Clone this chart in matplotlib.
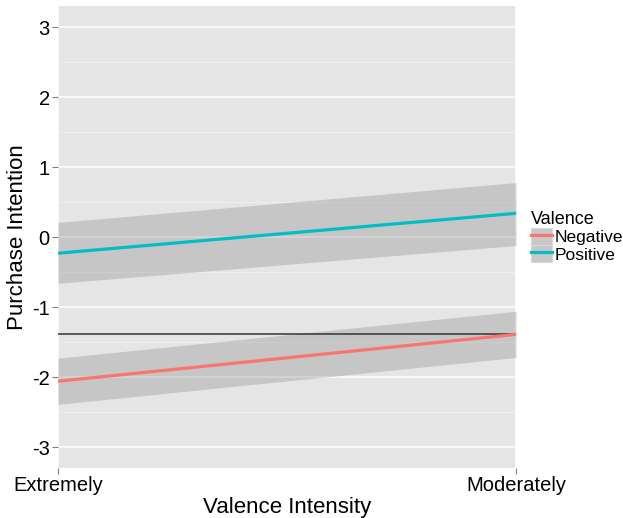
import matplotlib
matplotlib.use("Agg")
import matplotlib.pyplot as plt
from matplotlib.lines import Line2D
from matplotlib.patches import Patch
import numpy as np

plt.rcParams['font.family'] = ['Liberation Sans', 'DejaVu Sans']
plt.rcParams['axes.unicode_minus'] = False

# data
x_labels = ['Extremely', 'Moderately']
x_pos = [0, 1]
groups = ['Negative', 'Positive']
fit = {'Negative': [-2.06, -1.39], 'Positive': [-0.23, 0.34]}
lower = {'Negative': [-2.39, -1.72], 'Positive': [-0.66, -0.12]}
upper = {'Negative': [-1.73, -1.06], 'Positive': [0.21, 0.78]}
colors = {'Negative': '#F8766D', 'Positive': '#00BFC4'}
ref_line = -1.39

fig = plt.figure(figsize=(6.23, 5.18), dpi=100)
ax = fig.add_axes([0.0931, 0.0965, 0.7352, 0.8915])
ax.set_facecolor('#E5E5E5')

# grid like ggplot
for y in np.arange(-3, 3.1, 1):
    ax.axhline(y, color='white', lw=1.1, zorder=0)
for y in np.arange(-2.5, 3.1, 1):
    ax.axhline(y, color='#F2F2F2', lw=0.6, zorder=0)
for xv in x_pos:
    ax.axvline(xv, color='white', lw=1.1, zorder=0)

for g in groups:
    ax.fill_between(x_pos, lower[g], upper[g], color='#999999', alpha=0.4, lw=0, zorder=1)
for g in groups:
    ax.plot(x_pos, fit[g], color=colors[g], lw=2.3, zorder=3, solid_capstyle='butt')

ax.axhline(ref_line, color='#333333', lw=1.1, zorder=2)

ax.set_xlim(0, 1)
ax.set_ylim(-3.3, 3.3)
ax.set_xticks(x_pos)
ax.set_xticklabels(x_labels)
ax.set_yticks([-3, -2, -1, 0, 1, 2, 3])
ax.tick_params(axis='both', colors='#7F7F7F', labelcolor='black', labelsize=14.5,
               length=4, width=0.8, pad=2)
for s in ax.spines.values():
    s.set_visible(False)

ax.set_xlabel('Valence Intensity', fontsize=16, labelpad=1)
ax.set_ylabel('Purchase Intention', fontsize=16, labelpad=3)

handles = []
for g in groups:
    handles.append((Patch(facecolor='#C8C8C8', edgecolor='#D9D9D9', lw=0.8),
                    Line2D([], [], color=colors[g], lw=2.3)))
leg = fig.legend(handles, groups, title='Valence', loc='center left',
                 bbox_to_anchor=(0.852, 0.543), frameon=False, fontsize=12.5,
                 title_fontsize=13, handlelength=1.2, handleheight=1.15,
                 handletextpad=0.2, labelspacing=0.0, borderpad=0,
                 borderaxespad=0)
leg._legend_box.align = 'left'

fig.savefig('out.png', dpi=100)
